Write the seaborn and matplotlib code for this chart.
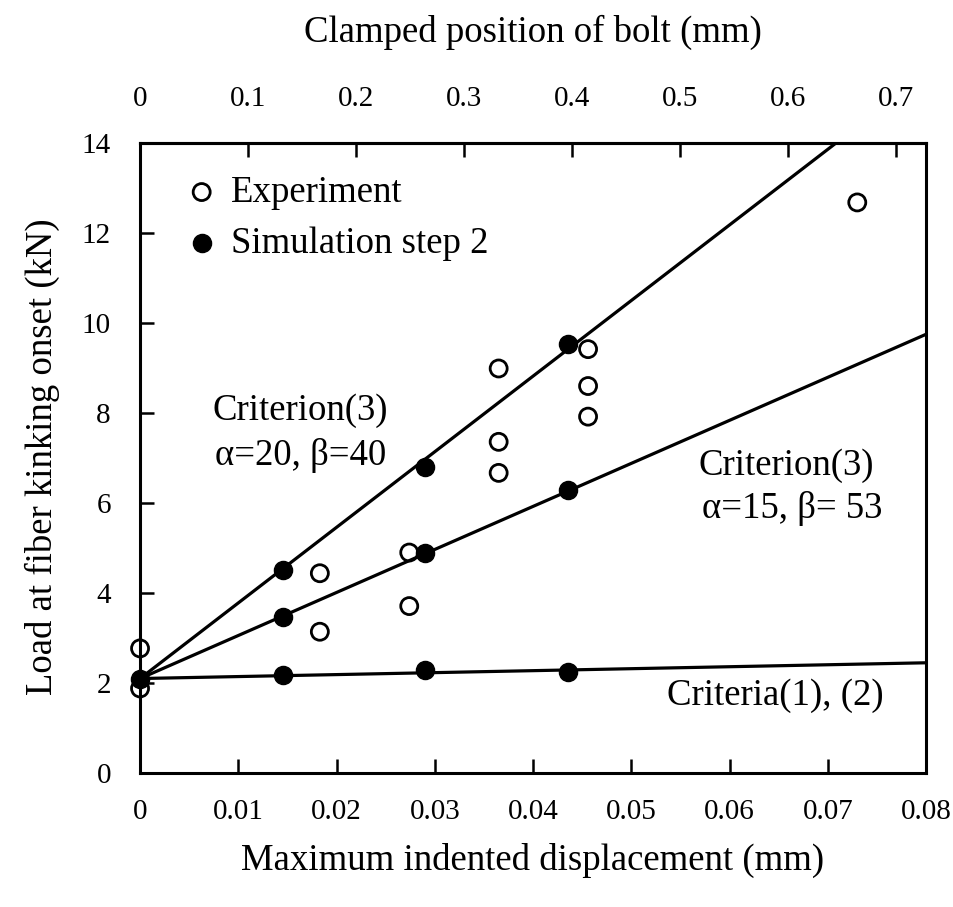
import matplotlib
matplotlib.use("Agg")
import matplotlib.pyplot as plt
import seaborn as sns

# Measured data: load at fiber kinking onset vs. maximum indented displacement
exp_disp = [0.0, 0.0, 0.0183, 0.0183, 0.0274, 0.0274, 0.0365, 0.0365, 0.0365,
            0.0456, 0.0456, 0.0456, 0.0730]
exp_load = [2.77, 1.88, 4.44, 3.14, 4.90, 3.71, 8.99, 7.36, 6.67,
            9.42, 8.60, 7.92, 12.68]

sim_disp = [0.0, 0.0146, 0.0146, 0.0146, 0.0290, 0.0290, 0.0290,
            0.0436, 0.0436, 0.0436]
sim_load = [2.10, 2.18, 3.47, 4.51, 2.29, 4.88, 6.81, 2.25, 6.28, 9.53]

# Criterion lines (end points)
line_disp = [0.0, 0.08]
crit3_a20_b40 = [2.10, 15.54]
crit3_a15_b53 = [2.10, 9.75]
crit12 = [2.10, 2.45]

x_ticks = [0, 0.01, 0.02, 0.03, 0.04, 0.05, 0.06, 0.07, 0.08]
x_labels = ["0", "0.01", "0.02", "0.03", "0.04", "0.05", "0.06", "0.07", "0.08"]
top_ticks = [0, 0.1, 0.2, 0.3, 0.4, 0.5, 0.6, 0.7]
top_labels = ["0", "0.1", "0.2", "0.3", "0.4", "0.5", "0.6", "0.7"]
y_ticks = [0, 2, 4, 6, 8, 10, 12, 14]
bolt_per_disp = 9.1  # clamped bolt position per unit indented displacement

sns.set_style("white")
plt.rcParams["font.family"] = ["Liberation Serif", "DejaVu Serif"]
for key in ("text.color", "axes.labelcolor", "xtick.color", "ytick.color",
            "axes.edgecolor"):
    plt.rcParams[key] = "black"

fig = plt.figure(figsize=(9.54, 9.07), dpi=100)
ax = fig.add_axes([0.1468, 0.1477, 0.8239, 0.6946])

for yv in (crit3_a20_b40, crit3_a15_b53, crit12):
    sns.lineplot(x=line_disp, y=yv, color="black", linewidth=2.3, ax=ax, zorder=2)

sns.scatterplot(x=exp_disp, y=exp_load, marker="o", s=150, facecolor="none",
                edgecolor="black", linewidth=2.0, label="Experiment", ax=ax,
                clip_on=False, zorder=4)
sns.scatterplot(x=sim_disp, y=sim_load, marker="o", s=170, color="black",
                edgecolor="black", linewidth=1.0, label="Simulation step 2", ax=ax,
                clip_on=False, zorder=4)

ax.set_xlim(0, 0.08)
ax.set_ylim(0, 14)
ax.set_xticks(x_ticks)
ax.set_xticklabels(x_labels)
ax.set_yticks(y_ticks)
ax.set_yticklabels([str(v) for v in y_ticks])

for side in ("left", "right", "top", "bottom"):
    ax.spines[side].set_visible(True)
    ax.spines[side].set_linewidth(2.2)
    ax.spines[side].set_color("black")
    ax.spines[side].set_zorder(5)

ax.tick_params(axis="x", direction="in", length=10, width=1.8, labelsize=21,
               pad=19, bottom=True, top=False, colors="black")
ax.tick_params(axis="y", direction="in", length=10, width=1.8, labelsize=21,
               pad=21, left=True, right=False, colors="black")

ax.set_xlabel("Maximum indented displacement (mm)", fontsize=26.5)
ax.xaxis.set_label_coords(0.5, -0.138)
ax.xaxis.label.set_va("center")
ax.set_ylabel("Load at fiber kinking onset (kN)", fontsize=26.5)
ax.yaxis.set_label_coords(-0.124, 0.502)
ax.yaxis.label.set_va("center")

secax = ax.secondary_xaxis("top", functions=(lambda x: x * bolt_per_disp,
                                             lambda x: x / bolt_per_disp))
secax.set_xticks(top_ticks)
secax.set_xticklabels(top_labels)
secax.tick_params(axis="x", direction="in", length=10, width=1.8, labelsize=21,
                  pad=22, colors="black")
secax.spines["top"].set_linewidth(2.2)
secax.set_xlabel("Clamped position of bolt (mm)", fontsize=26.5)
secax.xaxis.set_label_coords(0.5, 1.176, transform=ax.transAxes)
secax.xaxis.label.set_va("center")

ax.text(0.00733, 8.05, "Criterion(3)", fontsize=26.5, va="center", ha="left")
ax.text(0.0076, 7.05, "α=20, β=40", fontsize=26.5, va="center", ha="left")
ax.text(0.0568, 6.83, "Criterion(3)", fontsize=26.5, va="center", ha="left")
ax.text(0.0572, 5.88, "α=15, β= 53", fontsize=26.5, va="center", ha="left")
ax.text(0.0536, 1.71, "Criteria(1), (2)", fontsize=26.5, va="center", ha="left")

leg = ax.legend(loc="center left", bbox_to_anchor=(0.055, 0.881), frameon=False,
                fontsize=26.5, handlelength=1.0, handletextpad=0.3,
                labelspacing=0.45, borderpad=0, borderaxespad=0)

fig.savefig("out.png", dpi=100, facecolor="white")
